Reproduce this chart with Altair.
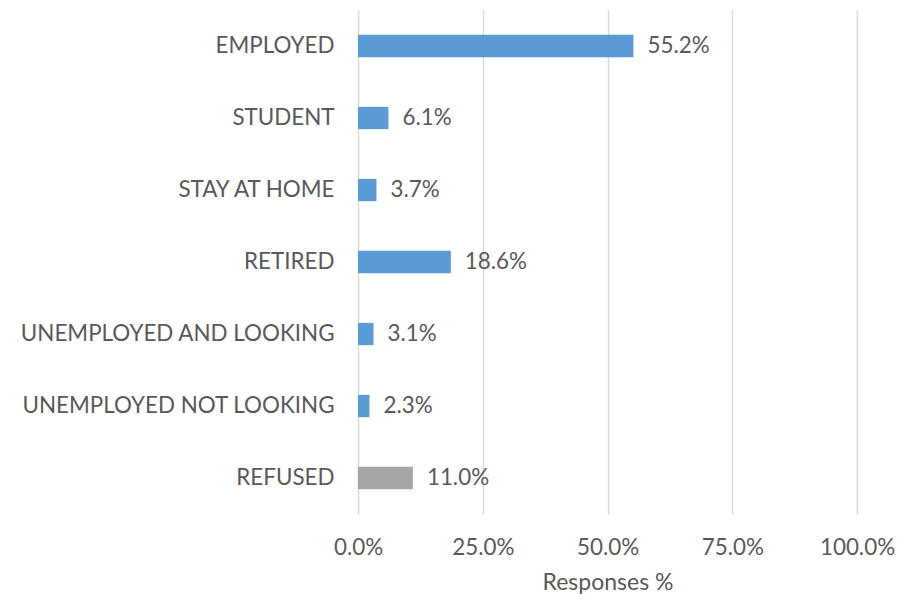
import altair as alt
import pandas as pd

categories = ["EMPLOYED", "STUDENT", "STAY AT HOME", "RETIRED",
              "UNEMPLOYED AND LOOKING", "UNEMPLOYED NOT LOOKING", "REFUSED"]
values = [55.2, 6.1, 3.7, 18.6, 3.1, 2.3, 11.0]
groups = ["answer", "answer", "answer", "answer", "answer", "answer", "refused"]

df = pd.DataFrame({"cat": categories, "val": values, "grp": groups})
df["label"] = [f"{v:.1f}%" for v in values]

FONT = "Lato"
TXT = "#595959"
FS = 22.4

y = alt.Y("cat:N", sort=categories, title=None,
          scale=alt.Scale(paddingInner=0.69, paddingOuter=0.345),
          axis=alt.Axis(domain=False, ticks=False, labelFontSize=FS, labelFont=FONT,
                        labelColor=TXT, labelPadding=24, labelLimit=400))
x = alt.X("val:Q", title="Responses %",
          scale=alt.Scale(domain=[0, 100], nice=False),
          axis=alt.Axis(values=[0, 25, 50, 75, 100], labelExpr="format(datum.value, '.1f') + '%'",
                        domain=False, ticks=False, grid=True, gridColor="#D9D9D9", gridWidth=1.5,
                        labelFlush=False, labelAlign="center",
                        labelFontSize=FS, labelFont=FONT, labelColor=TXT, labelPadding=22,
                        titleFontSize=23, titleFont=FONT, titleColor=TXT, titleFontWeight="normal",
                        titlePadding=13))

bars = alt.Chart(df).mark_bar().encode(
    x=x, y=y,
    color=alt.Color("grp:N", scale=alt.Scale(domain=["answer", "refused"],
                                             range=["#5B9BD5", "#A5A5A5"]), legend=None),
)
text = alt.Chart(df).mark_text(align="left", dx=14, fontSize=FS, font=FONT, color=TXT).encode(
    x="val:Q", y=alt.Y("cat:N", sort=categories), text="label:N"
)

chart = (bars + text).properties(
    width=499, height=504,
    autosize=alt.AutoSizeParams(type="none"),
    padding={"left": 350, "top": 2, "right": 53, "bottom": 80},
).configure_view(stroke=None)

chart.save("out.html", embed_options={"renderer": "svg", "actions": False})
